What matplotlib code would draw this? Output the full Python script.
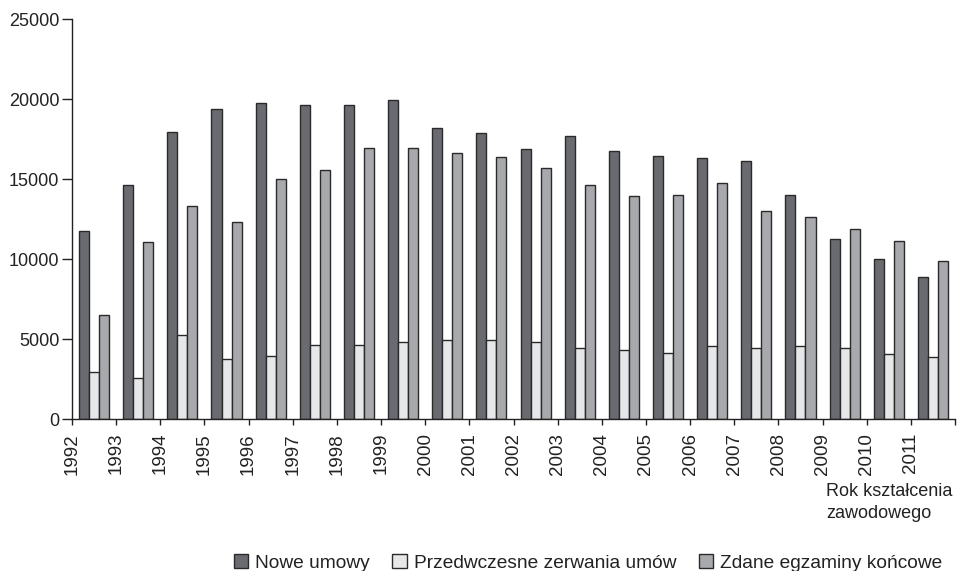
import matplotlib
matplotlib.use('Agg')
import matplotlib.pyplot as plt
import numpy as np
from matplotlib.patches import Patch

plt.rcParams['font.family'] = ['Liberation Sans', 'DejaVu Sans']

years = [str(y) for y in range(1992, 2012)]
nowe_umowy = [11750, 14600, 17950, 19400, 19750, 19600, 19650, 19950, 18200, 17850,
              16900, 17700, 16750, 16450, 16300, 16100, 14000, 11250, 10000, 8900]
zerwania = [2950, 2550, 5250, 3780, 3950, 4600, 4620, 4800, 4950, 4950,
            4800, 4450, 4300, 4100, 4550, 4450, 4550, 4450, 4050, 3850]
egzaminy = [6500, 11050, 13300, 12300, 15000, 15550, 16950, 16950, 16650, 16350,
            15700, 14600, 13950, 14000, 14750, 13000, 12650, 11900, 11100, 9900]

labels = ['Nowe umowy', 'Przedwczesne zerwania umów', 'Zdane egzaminy końcowe']
colors = ['#6a6b70', '#e6e7e9', '#a8a9ad']
edge = '#2a2a2a'

fig = plt.figure(figsize=(9.57, 5.71), dpi=100)
ax = fig.add_axes([72 / 957, 1 - 419 / 571, (955 - 72) / 957, 400 / 571])

x = np.arange(len(years))
w = 0.227
for k, vals in enumerate([nowe_umowy, zerwania, egzaminy]):
    ax.bar(x + 0.5 + (k - 1) * w, vals, width=w, color=colors[k],
           edgecolor=edge, linewidth=1.0, zorder=2)

ax.set_xlim(0, 20)
ax.set_ylim(0, 25000)
ax.set_yticks(range(0, 25001, 5000))
ax.set_xticks(np.arange(21))
ax.set_xticklabels(years + [''], rotation=90, ha='center', va='top')

for s in ['top', 'right']:
    ax.spines[s].set_visible(False)
for s in ['left', 'bottom']:
    ax.spines[s].set_linewidth(1.0)
    ax.spines[s].set_color('#222222')

ax.tick_params(axis='y', length=7, width=1, pad=2, labelsize=13, colors='#222222')
ax.tick_params(axis='x', length=4, width=1, pad=6, labelsize=13.5, colors='#222222')

fig.text(826 / 957, 1 - 492 / 571, 'Rok kształcenia', fontsize=13, color='#222222',
         ha='left', va='center')
fig.text(826 / 957, 1 - 514 / 571, 'zawodowego', fontsize=13, color='#222222',
         ha='left', va='center')

handles = [Patch(facecolor=c, edgecolor=edge, linewidth=1.0) for c in colors]
fig.legend(handles, labels, loc='center', bbox_to_anchor=(588 / 957, 1 - 563 / 571),
           ncol=3, frameon=False, fontsize=13.8, handlelength=0.75, handleheight=0.75,
           handletextpad=0.35, columnspacing=1.2, labelcolor='#222222',
           borderaxespad=0, borderpad=0)

fig.savefig('out.png', dpi=100)
